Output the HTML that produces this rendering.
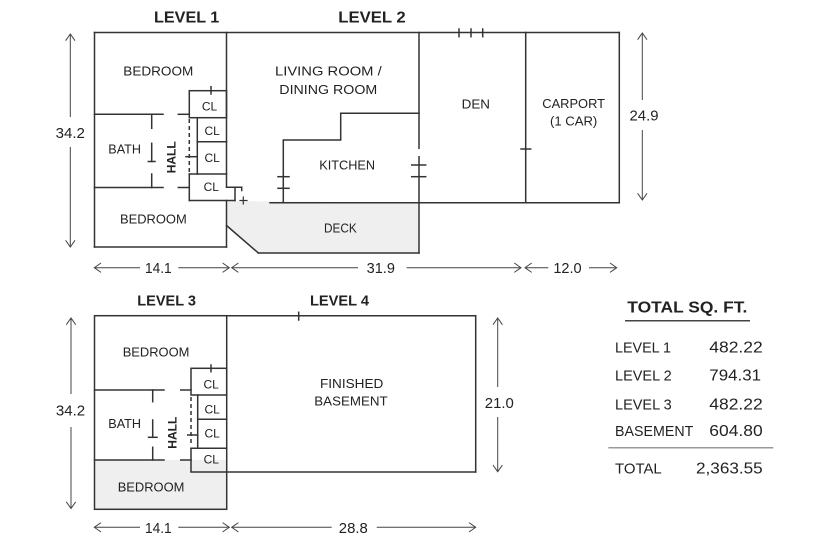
<!DOCTYPE html>
<html>
<head>
<meta charset="utf-8">
<style>
html,body{margin:0;padding:0;background:#fff;}
svg{display:block;}
text{font-family:"Liberation Sans",Arial,sans-serif;fill:#222;}
</style>
</head>
<body>
<svg width="825" height="549" viewBox="0 0 825 549" xmlns="http://www.w3.org/2000/svg">
<rect width="825" height="549" fill="#fff"/>

<!-- fills -->
<polygon points="226.5,201 419,202.7 419,253 258.3,253 226.5,225.5" fill="#efefef"/>
<rect x="94.5" y="460" width="132" height="49.3" fill="#efefef"/>

<g stroke="#333" stroke-width="1.5" fill="none" stroke-linecap="square">
  <!-- ===== LEVEL 1 ===== -->
  <line x1="94.5" y1="32.5" x2="619.3" y2="32.5"/>
  <line x1="94.5" y1="32.5" x2="94.5" y2="247"/>
  <line x1="94.5" y1="247" x2="226.5" y2="247"/>
  <line x1="226.5" y1="32.5" x2="226.5" y2="187.3"/>
  <line x1="226.5" y1="200.5" x2="226.5" y2="247"/>
  <!-- horizontal partitions -->
  <line x1="94.5" y1="114.3" x2="163" y2="114.3"/>
  <line x1="178.3" y1="114.3" x2="189.3" y2="114.3"/>
  <line x1="94.5" y1="187.5" x2="163" y2="187.5"/>
  <line x1="178.3" y1="187.5" x2="189.3" y2="187.5"/>
  <!-- bath right wall -->
  <line x1="151.7" y1="114.3" x2="151.7" y2="128.3"/>
  <line x1="151.7" y1="143.3" x2="151.7" y2="161.5"/>
  <line x1="148.3" y1="161.5" x2="155" y2="161.5"/>
  <line x1="151.7" y1="174" x2="151.7" y2="187.5"/>
  <!-- closets -->
  <rect x="189.3" y="90.7" width="37.2" height="27"/>
  <line x1="211" y1="86.7" x2="211" y2="94"/>
  <line x1="197.3" y1="117.7" x2="197.3" y2="174"/>
  <line x1="197.3" y1="141.7" x2="226.5" y2="141.7"/>
  <line x1="189.3" y1="174" x2="226.5" y2="174"/>
  <line x1="189.3" y1="174" x2="189.3" y2="200.5"/>
  <line x1="189.3" y1="200.5" x2="235" y2="200.5"/>
  <!-- notch -->
  <line x1="226.5" y1="187.3" x2="241.7" y2="187.3"/>
  <line x1="241.7" y1="187.3" x2="241.7" y2="190.5"/>
  <line x1="235" y1="187.3" x2="235" y2="200.5"/>
  <line x1="240" y1="200.5" x2="247" y2="200.5" stroke-width="1.2"/>
  <line x1="243.3" y1="197" x2="243.3" y2="204" stroke-width="1.2"/>
  <!-- hall tick -->
  <line x1="186" y1="156.7" x2="197.3" y2="156.7"/>

  <!-- ===== LEVEL 2 ===== -->
  <line x1="419" y1="32.5" x2="419" y2="148.3"/>
  <line x1="419" y1="156.7" x2="419" y2="253"/>
  <line x1="411.7" y1="165" x2="425.7" y2="165"/>
  <line x1="411.7" y1="176.7" x2="425.7" y2="176.7"/>
  <polyline points="419,113.3 340.7,113.3 340.7,140 283.3,140 283.3,202.7"/>
  <line x1="270" y1="202.7" x2="619.3" y2="202.7"/>
  <line x1="278" y1="176.7" x2="289" y2="176.7"/>
  <line x1="278" y1="188.3" x2="289" y2="188.3"/>
  <line x1="226.5" y1="225.5" x2="258.3" y2="253"/>
  <line x1="258.3" y1="253" x2="419" y2="253"/>

  <!-- DEN / CARPORT -->
  <line x1="619.3" y1="32.5" x2="619.3" y2="202.7"/>
  <line x1="525.7" y1="32.5" x2="525.7" y2="202.7"/>
  <line x1="521" y1="149" x2="530.7" y2="149"/>
  <line x1="459" y1="29" x2="459" y2="36.7"/>
  <line x1="471" y1="29" x2="471" y2="36.7"/>
  <line x1="482.7" y1="29" x2="482.7" y2="36.7"/>

  <!-- ===== LEVEL 3 ===== -->
  <rect x="94.5" y="315.7" width="132.2" height="193.6"/>
  <line x1="94.5" y1="390" x2="164" y2="390"/>
  <line x1="180.7" y1="390" x2="191" y2="390"/>
  <line x1="94.5" y1="460" x2="164" y2="460"/>
  <line x1="180.7" y1="460" x2="191" y2="460"/>
  <line x1="152.7" y1="390" x2="152.7" y2="401.7"/>
  <line x1="152.7" y1="420" x2="152.7" y2="437.3"/>
  <line x1="148.5" y1="437.3" x2="157" y2="437.3"/>
  <line x1="152.7" y1="447.3" x2="152.7" y2="460"/>
  <rect x="191" y="368.3" width="35.7" height="26.7"/>
  <line x1="211" y1="365" x2="211" y2="371.7"/>
  <line x1="197.7" y1="395" x2="197.7" y2="448.3"/>
  <line x1="197.7" y1="419.3" x2="226.7" y2="419.3"/>
  <line x1="191" y1="448.3" x2="226.7" y2="448.3"/>
  <line x1="191" y1="448.3" x2="191" y2="471.5"/>
  <line x1="187.7" y1="435" x2="197.7" y2="435"/>

  <!-- ===== LEVEL 4 ===== -->
  <line x1="226.7" y1="315.7" x2="475.7" y2="315.7"/>
  <line x1="475.7" y1="315.7" x2="475.7" y2="472"/>
  <line x1="191" y1="472" x2="475.7" y2="472"/>
  <line x1="298.7" y1="312.3" x2="298.7" y2="320"/>
</g>

<!-- dashed hall lines -->
<g stroke="#333" stroke-width="1.5" stroke-dasharray="4,3">
  <line x1="189.3" y1="119" x2="189.3" y2="176"/>
  <line x1="191" y1="397" x2="191" y2="445"/>
</g>

<!-- dimension lines -->
<g stroke="#444" stroke-width="1" fill="none">
  <!-- 34.2 upper -->
  <line x1="70.3" y1="34" x2="70.3" y2="117"/>
  <line x1="70.3" y1="147" x2="70.3" y2="247"/>
  <polyline points="65.6,40.7 70.3,34 75,40.7"/>
  <polyline points="65.6,240.3 70.3,247 75,240.3"/>
  <!-- 24.9 -->
  <line x1="642.3" y1="33" x2="642.3" y2="100"/>
  <line x1="642.3" y1="130" x2="642.3" y2="200"/>
  <polyline points="637.6,39.7 642.3,33 647,39.7"/>
  <polyline points="637.6,193.3 642.3,200 647,193.3"/>
  <!-- 34.2 lower -->
  <line x1="71" y1="318" x2="71" y2="394"/>
  <line x1="71" y1="427" x2="71" y2="508.5"/>
  <polyline points="66.3,324.7 71,318 75.7,324.7"/>
  <polyline points="66.3,501.8 71,508.5 75.7,501.8"/>
  <!-- 21.0 -->
  <line x1="497.7" y1="318" x2="497.7" y2="387"/>
  <line x1="497.7" y1="417" x2="497.7" y2="471.7"/>
  <polyline points="493,324.7 497.7,318 502.4,324.7"/>
  <polyline points="493,465 497.7,471.7 502.4,465"/>
  <!-- horizontal upper row y=267.7 -->
  <line x1="94.3" y1="267.7" x2="140" y2="267.7"/>
  <line x1="178.3" y1="267.7" x2="229.3" y2="267.7"/>
  <polyline points="101,263 94.3,267.7 101,272.4"/>
  <polyline points="222.6,263 229.3,267.7 222.6,272.4"/>
  <line x1="231.7" y1="267.7" x2="358" y2="267.7"/>
  <line x1="406.7" y1="267.7" x2="521" y2="267.7"/>
  <polyline points="238.4,263 231.7,267.7 238.4,272.4"/>
  <polyline points="514.3,263 521,267.7 514.3,272.4"/>
  <line x1="525" y1="267.7" x2="548.3" y2="267.7"/>
  <line x1="589" y1="267.7" x2="616.7" y2="267.7"/>
  <polyline points="531.7,263 525,267.7 531.7,272.4"/>
  <polyline points="610,263 616.7,267.7 610,272.4"/>
  <!-- horizontal lower row y=527.3 -->
  <line x1="94.3" y1="527.3" x2="140" y2="527.3"/>
  <line x1="178.3" y1="527.3" x2="229.3" y2="527.3"/>
  <polyline points="101,522.6 94.3,527.3 101,532" />
  <polyline points="222.6,522.6 229.3,527.3 222.6,532"/>
  <line x1="231.7" y1="527.3" x2="331.7" y2="527.3"/>
  <line x1="376.7" y1="527.3" x2="475.7" y2="527.3"/>
  <polyline points="238.4,522.6 231.7,527.3 238.4,532"/>
  <polyline points="469,522.6 475.7,527.3 469,532"/>
</g>

<!-- table lines -->
<line x1="625" y1="320.7" x2="750" y2="320.7" stroke="#444" stroke-width="1.5"/>
<line x1="608.3" y1="447.7" x2="773.3" y2="447.7" stroke="#999" stroke-width="1.5"/>

<!-- titles -->
<g font-weight="bold" font-size="16" lengthAdjust="spacingAndGlyphs">
  <text x="154" y="22.7" textLength="65.3" lengthAdjust="spacingAndGlyphs">LEVEL 1</text>
  <text x="338.3" y="22.7" textLength="67.4" lengthAdjust="spacingAndGlyphs">LEVEL 2</text>
  <text x="137.3" y="305.7" font-size="15" textLength="58.7" lengthAdjust="spacingAndGlyphs">LEVEL 3</text>
  <text x="310" y="305.7" font-size="15" textLength="59" lengthAdjust="spacingAndGlyphs">LEVEL 4</text>
</g>

<!-- room labels -->
<g font-size="13">
  <text x="123.3" y="75.7" textLength="70" lengthAdjust="spacingAndGlyphs">BEDROOM</text>
  <text x="108.3" y="153.7" textLength="32.7" lengthAdjust="spacingAndGlyphs">BATH</text>
  <text x="120" y="223.7" textLength="66.7" lengthAdjust="spacingAndGlyphs">BEDROOM</text>
  <text x="275" y="75.7" textLength="106.7" lengthAdjust="spacingAndGlyphs">LIVING ROOM /</text>
  <text x="279.3" y="94" textLength="98" lengthAdjust="spacingAndGlyphs">DINING ROOM</text>
  <text x="319.3" y="169.7" textLength="55.7" lengthAdjust="spacingAndGlyphs">KITCHEN</text>
  <text x="324" y="232.4" textLength="32.7" lengthAdjust="spacingAndGlyphs">DECK</text>
  <text x="461.7" y="108.4" textLength="28.3" lengthAdjust="spacingAndGlyphs">DEN</text>
  <text x="542.3" y="108" textLength="62.7" lengthAdjust="spacingAndGlyphs">CARPORT</text>
  <text x="550" y="125.7" textLength="47.3" lengthAdjust="spacingAndGlyphs">(1 CAR)</text>
  <text x="122.7" y="356.4" textLength="66.7" lengthAdjust="spacingAndGlyphs">BEDROOM</text>
  <text x="108.3" y="428" textLength="32.7" lengthAdjust="spacingAndGlyphs">BATH</text>
  <text x="117.7" y="491.4" textLength="66.7" lengthAdjust="spacingAndGlyphs">BEDROOM</text>
  <text x="320" y="388" textLength="63.3" lengthAdjust="spacingAndGlyphs">FINISHED</text>
  <text x="314.3" y="405.7" textLength="73.3" lengthAdjust="spacingAndGlyphs">BASEMENT</text>
</g>

<!-- closet labels -->
<g font-size="12" text-anchor="middle">
  <text x="209.5" y="110.3">CL</text>
  <text x="212.2" y="135">CL</text>
  <text x="212.2" y="162">CL</text>
  <text x="211.3" y="191">CL</text>
  <text x="211.2" y="388.3">CL</text>
  <text x="212.2" y="413.3">CL</text>
  <text x="212.2" y="437.6">CL</text>
  <text x="211.3" y="463.6">CL</text>
</g>

<!-- HALL labels -->
<g font-size="12" font-weight="bold" text-anchor="middle">
  <text transform="translate(175.5,157.3) rotate(-90)" textLength="32" lengthAdjust="spacingAndGlyphs">HALL</text>
  <text transform="translate(176.5,432.7) rotate(-90)" textLength="32" lengthAdjust="spacingAndGlyphs">HALL</text>
</g>

<!-- dimension labels -->
<g font-size="15" text-anchor="middle">
  <text x="70.3" y="138" textLength="29.3" lengthAdjust="spacingAndGlyphs">34.2</text>
  <text x="644" y="120.5" textLength="29" lengthAdjust="spacingAndGlyphs">24.9</text>
  <text x="70.5" y="415.5" textLength="29.3" lengthAdjust="spacingAndGlyphs">34.2</text>
  <text x="499.3" y="408" textLength="29" lengthAdjust="spacingAndGlyphs">21.0</text>
  <text x="158.3" y="273" textLength="26.7" lengthAdjust="spacingAndGlyphs">14.1</text>
  <text x="380.8" y="273" textLength="28.3" lengthAdjust="spacingAndGlyphs">31.9</text>
  <text x="567.5" y="273" textLength="28.3" lengthAdjust="spacingAndGlyphs">12.0</text>
  <text x="158.3" y="532.8" textLength="26.7" lengthAdjust="spacingAndGlyphs">14.1</text>
  <text x="353.3" y="532.8" textLength="29" lengthAdjust="spacingAndGlyphs">28.8</text>
</g>

<!-- table -->
<text x="627.3" y="312.7" font-size="16" font-weight="bold" textLength="120" lengthAdjust="spacingAndGlyphs">TOTAL SQ. FT.</text>
<g font-size="15">
  <text x="615" y="352.7" textLength="56" lengthAdjust="spacingAndGlyphs">LEVEL 1</text>
  <text x="615" y="380.7" textLength="56.7" lengthAdjust="spacingAndGlyphs">LEVEL 2</text>
  <text x="615" y="409.3" textLength="56.7" lengthAdjust="spacingAndGlyphs">LEVEL 3</text>
  <text x="615" y="436" textLength="78.3" lengthAdjust="spacingAndGlyphs">BASEMENT</text>
  <text x="615" y="473.3" textLength="46.7" lengthAdjust="spacingAndGlyphs">TOTAL</text>
</g>
<g font-size="16">
  <text x="709.3" y="352.7" textLength="53.4" lengthAdjust="spacingAndGlyphs">482.22</text>
  <text x="709.3" y="380.7" textLength="51.7" lengthAdjust="spacingAndGlyphs">794.31</text>
  <text x="709.3" y="409.3" textLength="53.4" lengthAdjust="spacingAndGlyphs">482.22</text>
  <text x="709.3" y="436" textLength="53.4" lengthAdjust="spacingAndGlyphs">604.80</text>
  <text x="696" y="473.3" textLength="66.7" lengthAdjust="spacingAndGlyphs">2,363.55</text>
</g>
</svg>
</body>
</html>
